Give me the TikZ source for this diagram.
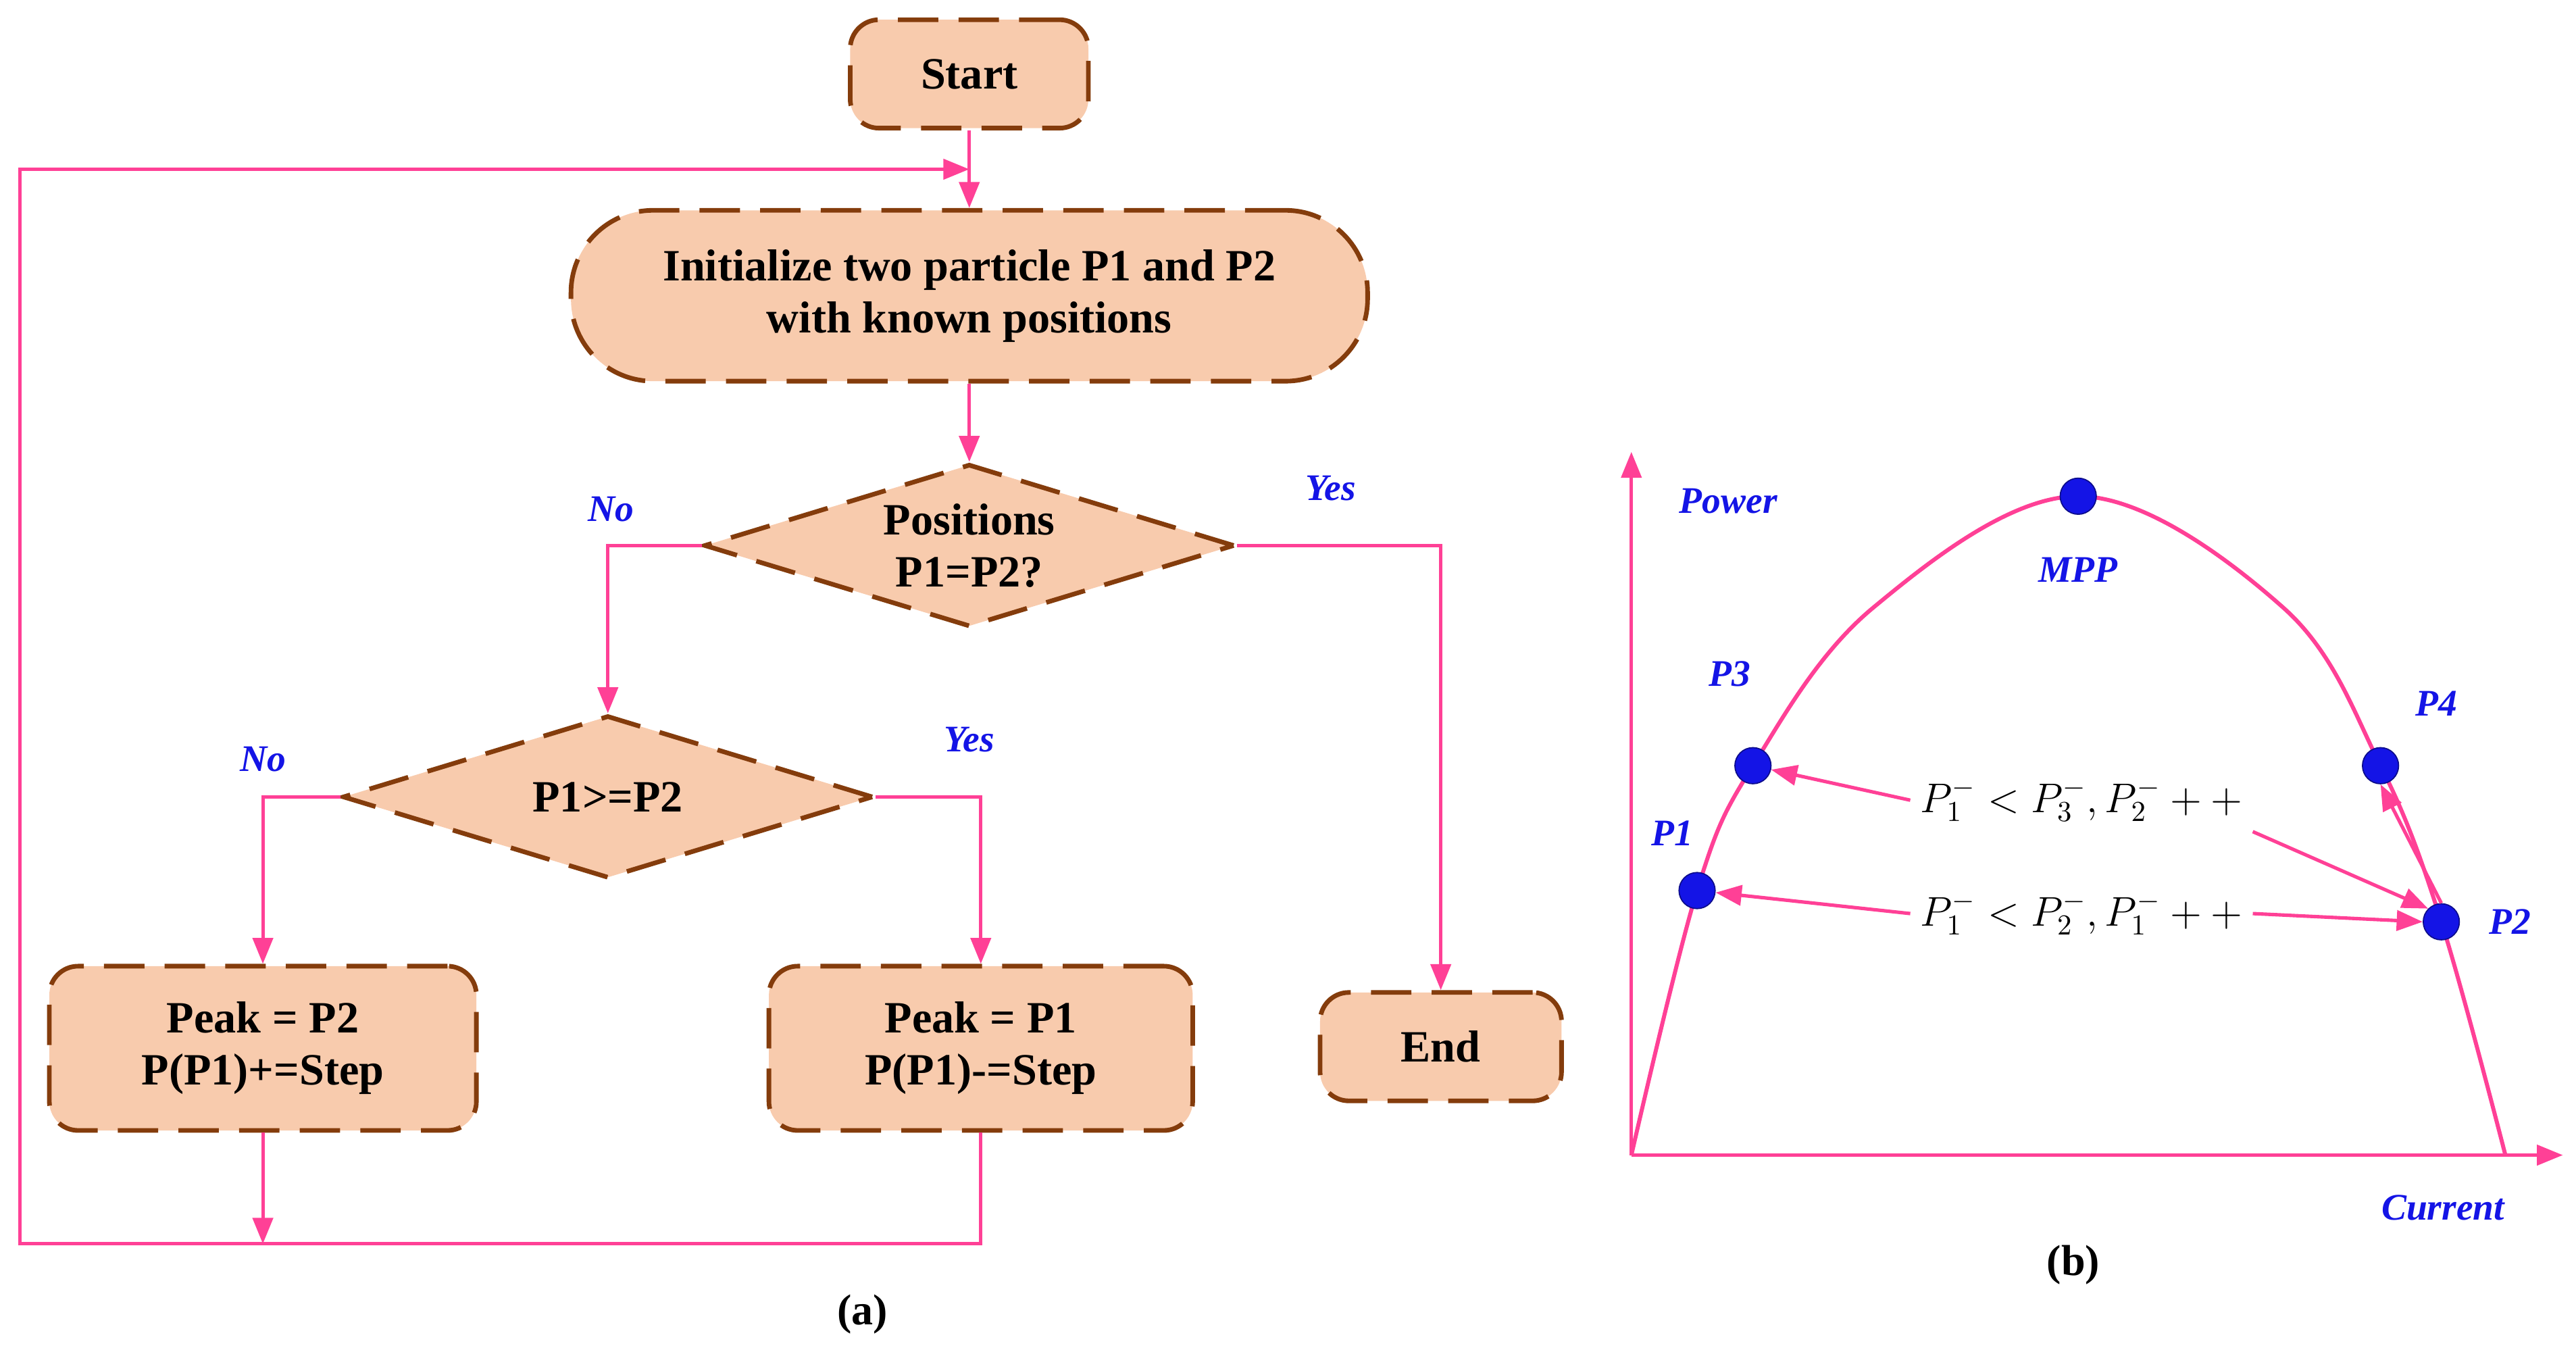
\documentclass[tikz,border=0pt]{standalone}
\usepackage{fontspec}
\setmainfont{Liberation Serif}
\usetikzlibrary{shapes.geometric,arrows.meta}
\definecolor{boxfill}{RGB}{248,203,173}
\definecolor{boxline}{RGB}{132,60,12}
\definecolor{flow}{RGB}{255,64,150}
\definecolor{lbl}{RGB}{20,20,230}
\tikzset{
    stage/.style={draw=boxline,fill=boxfill,line width=1.6pt,dash pattern=on 14pt off 7pt,
        rounded corners=10pt,align=center,font=\fontsize{15.5}{18}\selectfont\bfseries,inner sep=0pt},
    test/.style={stage,diamond,rounded corners=0pt,aspect=3.26,minimum width=6.46cm,minimum height=1.98cm},
    flowline/.style={draw=flow,line width=1.2pt,-{Triangle[length=9pt,width=7pt]}},
    answer/.style={text=lbl,font=\fontsize{13}{15}\selectfont\bfseries\itshape},
    pt/.style={circle,fill=lbl,draw=lbl!60!black,inner sep=0pt,minimum size=0.44cm},
}
\begin{document}
\begin{tikzpicture}[x=0.02cm,y=-0.02cm]
\useasboundingbox (0,0) rectangle (1568,820);

% Flowchart
\node[stage,minimum width=2.9cm,minimum height=1.32cm] (start) at (590,45) {Start};
\node[stage,rounded corners=1cm,minimum width=9.7cm,minimum height=2.08cm] (init) at (590,180) {Initialize two particle P1 and P2\\with known positions};
\node[test] (same) at (590,332) {Positions\\P1=P2?};
\node[test] (cmp) at (370,485) {P1>=P2};
\node[stage,minimum width=5.2cm,minimum height=2cm] (peaktwo) at (160,638) {Peak = P2\\P(P1)+=Step};
\node[stage,minimum width=5.16cm,minimum height=2cm] (peakone) at (597,638) {Peak = P1\\P(P1)-=Step};
\node[stage,minimum width=2.94cm,minimum height=1.32cm] (finish) at (877,637) {End};

\coordinate (merge) at (160,757);
\coordinate (top) at (590,103);

\draw[flowline] (start) -- (init);
\draw[flowline] (init) -- (same);
\draw[flowline] (same.west) -| (cmp.north);
\draw[flowline] (same.east) -| (finish.north);
\draw[flowline] (cmp.west) -| (peaktwo.north);
\draw[flowline] (cmp.east) -| (peakone.north);
\draw[flowline] (peaktwo.south) -- (merge);
\draw[flowline] (peakone.south) |- (12,757) |- (top);

\node[answer] at (372,310) {No};
\node[answer] at (810,297) {Yes};
\node[answer] at (160,462) {No};
\node[answer] at (590,450) {Yes};
\node[font=\fontsize{15}{18}\selectfont\bfseries] at (525,800) {(a)};

% P-I curve
\coordinate (origin) at (993,703);
\draw[flowline] (origin) -- (993,275);
\draw[flowline] (origin) -- (1560,703);
\draw[draw=flow,line width=1.4pt] plot[smooth,tension=0.6] coordinates {(993,703) (1033,542) (1067,466) (1140,370) (1265,302) (1390,370) (1449,466) (1486,561) (1525,703)};

\node[pt] (mpp) at (1265,302) {};
\node[pt] (pthree) at (1067,466) {};
\node[pt] (pfour) at (1449,466) {};
\node[pt] (pone) at (1033,542) {};
\node[pt] (ptwo) at (1486,561) {};

\node[answer] at (1052,305) {Power};
\node[answer] at (1487,735) {Current};
\node[answer] at (1265,347) {MPP};
\node[answer] at (1053,410) {P3};
\node[answer] at (1483,428) {P4};
\node[answer] at (1018,507) {P1};
\node[answer] at (1528,561) {P2};

\node[font=\fontsize{14}{16}\selectfont] (ruleup) at (1267,487) {$P_1^- < P_3^-, P_2^- ++$};
\node[font=\fontsize{14}{16}\selectfont] (ruledown) at (1267,556) {$P_1^- < P_2^-, P_1^- ++$};

\draw[flowline] (ruleup.west) -- (pthree);
\draw[flowline] (ruleup.south east) -- (ptwo.north west);
\draw[flowline] (ruledown.west) -- (pone);
\draw[flowline] (ruledown.east) -- (ptwo.west);
\draw[flowline] (ptwo.north) -- (pfour.south);
\node[font=\fontsize{15}{18}\selectfont\bfseries] at (1262,770) {(b)};
\end{tikzpicture}
\end{document}
